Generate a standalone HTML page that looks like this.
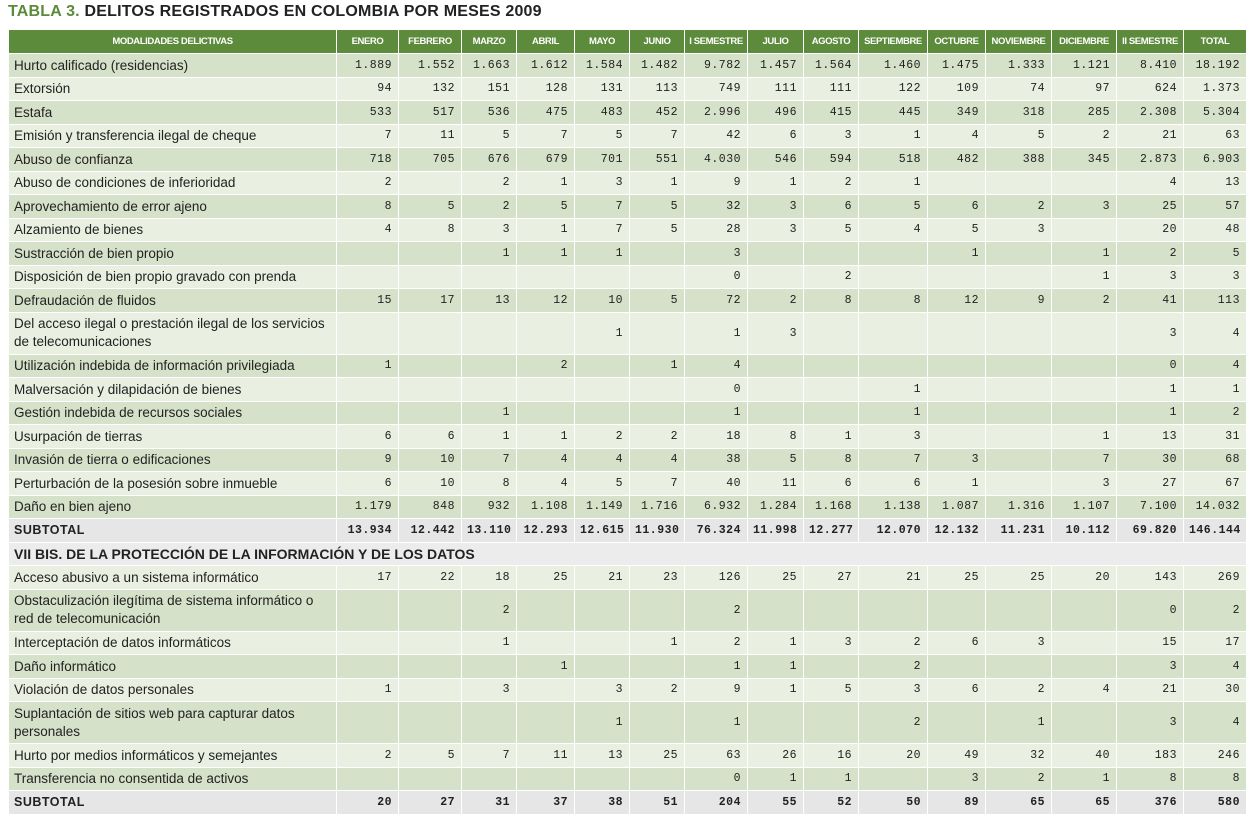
<!DOCTYPE html>
<html><head><meta charset="utf-8">
<style>
body{margin:0;background:#fff;width:1251px;height:819px;overflow:hidden;font-family:"Liberation Sans",sans-serif;}
#title{position:absolute;left:8px;top:3px;font-size:16px;font-weight:bold;color:#222;letter-spacing:0.2px}
#title span{color:#5a8a3a}
table{position:absolute;left:8px;top:29px;border-collapse:collapse;table-layout:fixed;width:1238px}
td,th{border:1px solid #fff;padding:0 5px;overflow:hidden;white-space:nowrap}
th{background:#5b8b3b;color:#fff;font-size:9.5px;font-weight:bold;height:23px;text-align:center;letter-spacing:-0.4px;padding:0 2px}
td{font-size:13.5px;color:#222;height:22.5px}
td.n{text-align:right;font-family:"Liberation Mono",monospace;font-size:11.5px;letter-spacing:0.5px;padding-right:6px}
tr.d td{background:#d6e1c9}
tr.l td{background:#e9efe1}
tr.s td{background:#e6e6e6;font-weight:bold}
tr.s td:first-child{font-size:12.5px;letter-spacing:0.5px}
tr.h td{background:#ececec;font-weight:bold;font-size:14px}
td.w{white-space:normal;line-height:18px;height:41px}
</style></head><body>
<div id="title"><span>TABLA 3.</span> DELITOS REGISTRADOS EN COLOMBIA POR MESES 2009</div>
<table id="t">
<colgroup><col style="width:328px"><col style="width:62px"><col style="width:63px"><col style="width:55px"><col style="width:58px"><col style="width:55px"><col style="width:55px"><col style="width:63px"><col style="width:56px"><col style="width:55px"><col style="width:69px"><col style="width:58px"><col style="width:66px"><col style="width:65px"><col style="width:67px"><col style="width:63px"></colgroup>
<tbody id="tb"></tbody></table>
<script>
const columns=["MODALIDADES DELICTIVAS","ENERO","FEBRERO","MARZO","ABRIL","MAYO","JUNIO","I SEMESTRE","JULIO","AGOSTO","SEPTIEMBRE","OCTUBRE","NOVIEMBRE","DICIEMBRE","II SEMESTRE","TOTAL"];
const section1=[
["Hurto calificado (residencias)","1.889","1.552","1.663","1.612","1.584","1.482","9.782","1.457","1.564","1.460","1.475","1.333","1.121","8.410","18.192"],
["Extorsión","94","132","151","128","131","113","749","111","111","122","109","74","97","624","1.373"],
["Estafa","533","517","536","475","483","452","2.996","496","415","445","349","318","285","2.308","5.304"],
["Emisión y transferencia ilegal de cheque","7","11","5","7","5","7","42","6","3","1","4","5","2","21","63"],
["Abuso de confianza","718","705","676","679","701","551","4.030","546","594","518","482","388","345","2.873","6.903"],
["Abuso de condiciones de inferioridad","2","","2","1","3","1","9","1","2","1","","","","4","13"],
["Aprovechamiento de error ajeno","8","5","2","5","7","5","32","3","6","5","6","2","3","25","57"],
["Alzamiento de bienes","4","8","3","1","7","5","28","3","5","4","5","3","","20","48"],
["Sustracción de bien propio","","","1","1","1","","3","","","","1","","1","2","5"],
["Disposición de bien propio gravado con prenda","","","","","","","0","","2","","","","1","3","3"],
["Defraudación de fluidos","15","17","13","12","10","5","72","2","8","8","12","9","2","41","113"],
["Del acceso ilegal o prestación ilegal de los servicios de telecomunicaciones","","","","","1","","1","3","","","","","","3","4"],
["Utilización indebida de información privilegiada","1","","","2","","1","4","","","","","","","0","4"],
["Malversación y dilapidación de bienes","","","","","","","0","","","1","","","","1","1"],
["Gestión indebida de recursos sociales","","","1","","","","1","","","1","","","","1","2"],
["Usurpación de tierras","6","6","1","1","2","2","18","8","1","3","","","1","13","31"],
["Invasión de tierra o edificaciones","9","10","7","4","4","4","38","5","8","7","3","","7","30","68"],
["Perturbación de la posesión sobre inmueble","6","10","8","4","5","7","40","11","6","6","1","","3","27","67"],
["Daño en bien ajeno","1.179","848","932","1.108","1.149","1.716","6.932","1.284","1.168","1.138","1.087","1.316","1.107","7.100","14.032"]];
const subtotal1=["SUBTOTAL","13.934","12.442","13.110","12.293","12.615","11.930","76.324","11.998","12.277","12.070","12.132","11.231","10.112","69.820","146.144"];
const section2Title="VII BIS. DE LA PROTECCIÓN DE LA INFORMACIÓN Y DE LOS DATOS";
const section2=[
["Acceso abusivo a un sistema informático","17","22","18","25","21","23","126","25","27","21","25","25","20","143","269"],
["Obstaculización ilegítima de sistema informático o red de telecomunicación","","","2","","","","2","","","","","","","0","2"],
["Interceptación de datos informáticos","","","1","","","1","2","1","3","2","6","3","","15","17"],
["Daño informático","","","","1","","","1","1","","2","","","","3","4"],
["Violación de datos personales","1","","3","","3","2","9","1","5","3","6","2","4","21","30"],
["Suplantación de sitios web para capturar datos personales","","","","","1","","1","","","2","","1","","3","4"],
["Hurto por medios informáticos y semejantes","2","5","7","11","13","25","63","26","16","20","49","32","40","183","246"],
["Transferencia no consentida de activos","","","","","","","0","1","1","","3","2","1","8","8"]];
const subtotal2=["SUBTOTAL","20","27","31","37","38","51","204","55","52","50","89","65","65","376","580"];
const tb=document.getElementById('tb');
function slug(s){return s.toLowerCase().normalize('NFD').replace(/[\u0300-\u036f]/g,'').replace(/[^a-z0-9]+/g,'-').replace(/^-|-$/g,'').slice(0,40);}
function addRow(vals,cls,th){
  const tr=document.createElement('tr');tr.className=cls;
  
  
  vals.forEach((v,i)=>{
    const c=document.createElement(th?'th':'td');c.textContent=v;
    if(!th&&i>0)c.className='n';
    if(!th&&i==0&&v.length>52)c.className='w';
    
    
    tr.appendChild(c);
  });
  tb.appendChild(tr);
}
addRow(columns,'',true);
section1.forEach((r,i)=>addRow(r,i%2?'l':'d'));
addRow(subtotal1,'s');
const h=document.createElement('tr');h.className='h';


const hc=document.createElement('td');hc.colSpan=16;hc.textContent=section2Title;


h.appendChild(hc);tb.appendChild(h);
section2.forEach((r,i)=>addRow(r,i%2?'d':'l'));
addRow(subtotal2,'s');
</script>
</body></html>
